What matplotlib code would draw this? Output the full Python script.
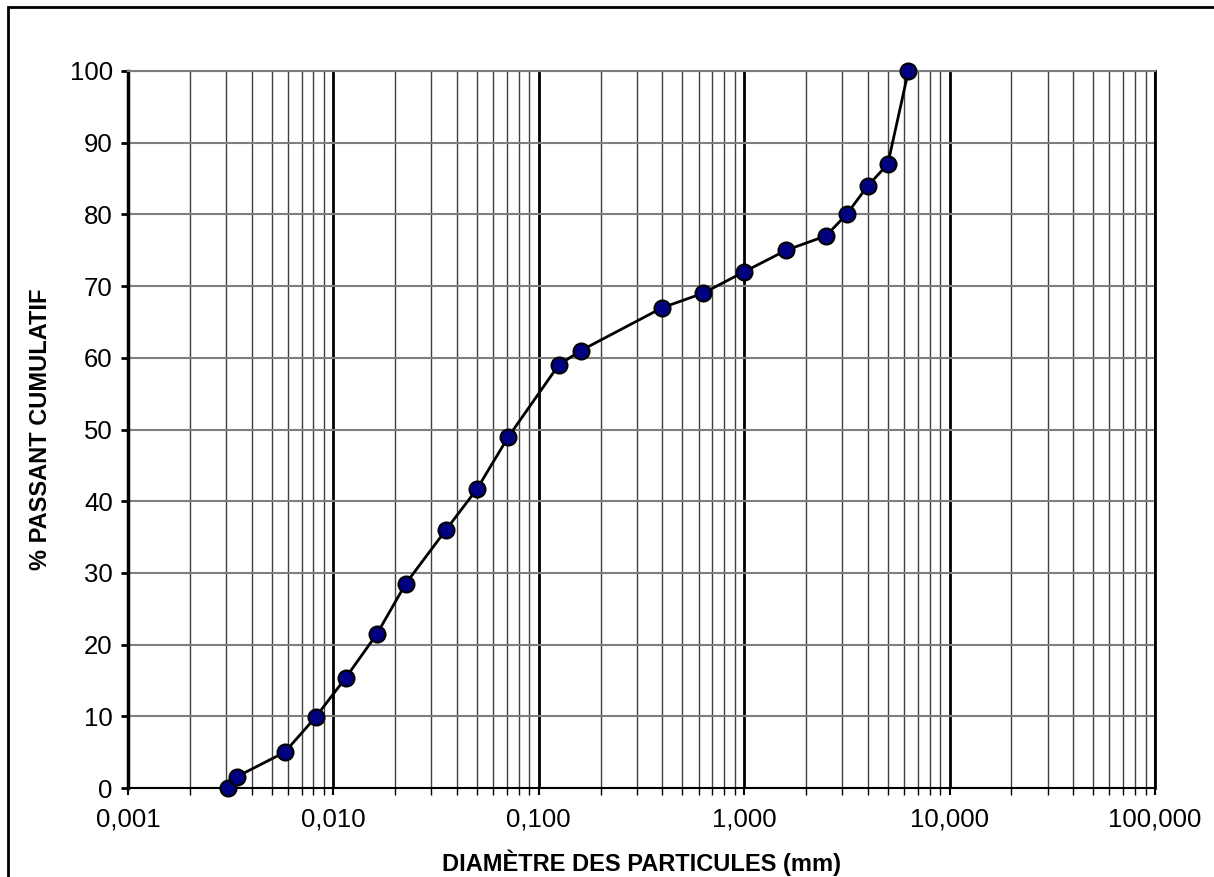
import numpy as np
import matplotlib
matplotlib.use("Agg")
import matplotlib.pyplot as plt
from matplotlib.patches import Rectangle
from matplotlib.ticker import LogLocator, FuncFormatter, MultipleLocator, NullFormatter

plt.rcParams["font.family"] = ["Liberation Sans", "DejaVu Sans"]

# courbe granulométrique
diametre_mm = [0.00307, 0.0034, 0.0058, 0.0082, 0.0115, 0.0163, 0.0225, 0.0353,
               0.050, 0.0708, 0.125, 0.16, 0.40, 0.63, 1.0, 1.6, 2.5, 3.15,
               4.0, 5.0, 6.3]
passant_pct = [0, 1.6, 5, 9.9, 15.4, 21.5, 28.5, 36, 41.7, 48.9, 59, 61, 67,
               69, 72, 75, 77, 80, 84, 87, 100]

W, H = 1214, 877
fig = plt.figure(figsize=(W / 100, H / 100), dpi=100)
ax = fig.add_axes([128 / W, 1 - 788 / H, (1155 - 128) / W, (788 - 71) / H])

ax.set_xscale("log")
ax.set_xlim(1e-3, 1e2)
ax.set_ylim(0, 100)

ax.xaxis.set_major_locator(LogLocator(base=10, numticks=10))
ax.xaxis.set_minor_locator(LogLocator(base=10, subs=np.arange(2, 10), numticks=10))
ax.xaxis.set_major_formatter(FuncFormatter(lambda v, p: f"{v:.3f}".replace(".", ",")))
ax.xaxis.set_minor_formatter(NullFormatter())
ax.yaxis.set_major_locator(MultipleLocator(10))

# quadrillage
ax.grid(True, which="major", axis="x", color="black", lw=2)
ax.grid(True, which="minor", axis="x", color="#404040", lw=1)
ax.grid(True, which="major", axis="y", color="#7f7f7f", lw=1.5)
ax.set_axisbelow(True)

ax.spines["left"].set_linewidth(2.5)
ax.spines["bottom"].set_linewidth(1.5)
ax.spines["right"].set_linewidth(2)
ax.spines["top"].set_color("#7f7f7f")
ax.spines["top"].set_linewidth(1.5)

ax.tick_params(axis="y", which="major", direction="out", length=5, width=2, labelsize=18.5, pad=6)
ax.tick_params(axis="x", which="major", direction="out", length=5, width=1.5, labelsize=18.5, pad=9)
ax.tick_params(axis="x", which="minor", direction="out", length=5, width=1)

ax.plot(diametre_mm, passant_pct, color="black", lw=2, marker="o", markersize=11.5,
        markerfacecolor="#000080", markeredgecolor="black", markeredgewidth=1.5, zorder=5,
        clip_on=False)

ax.set_xlabel("DIAMÈTRE DES PARTICULES (mm)", fontsize=17, fontweight="bold", labelpad=13)
ax.set_ylabel("% PASSANT CUMULATIF", fontsize=17, fontweight="bold", labelpad=13)

# cadre autour de la figure
fig.patches.append(Rectangle((8 / W, -0.05), 1.1, 1 - 7 / H + 0.05, transform=fig.transFigure,
                             fill=False, edgecolor="black", lw=2))

fig.savefig("out.png", dpi=100)
